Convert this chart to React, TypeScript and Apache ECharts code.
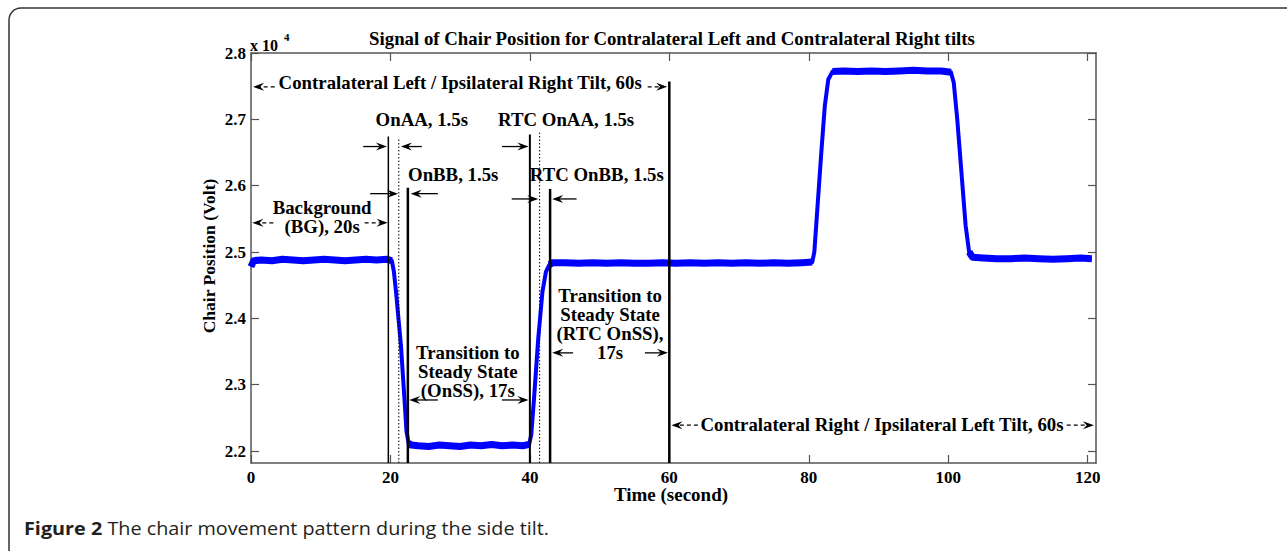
import React, { useEffect, useRef } from "react";
import * as echarts from "echarts";

// ---------- data ----------
const xTickValues = [0, 20, 40, 60, 80, 100, 120];
const yTickValues = [2.2, 2.3, 2.4, 2.5, 2.6, 2.7, 2.8];

const signalTime = [
  0, 0.4, 1.5, 3, 4.5, 6, 7.5, 9, 10.5, 12, 13.5, 15, 16.5, 18, 19.5, 20.2,
  20.5, 20.8, 21.5, 22.0, 22.3, 22.6, 23,
  24, 25.5, 27, 28.5, 30, 31.5, 33, 34.5, 36, 37.5, 39, 39.9,
  40.2, 40.6, 41.2, 41.8, 42.3, 42.8, 43.3,
  45, 47, 49, 51, 53, 55, 57, 59, 61, 63, 65, 67, 69, 71, 73, 75, 77, 79, 80.5,
  80.8, 81.2, 81.8, 82.3, 82.8, 83.4,
  85, 87, 89, 91, 93, 95, 97, 99, 100.4,
  100.8, 101.3, 101.9, 102.5, 103.0, 103.5,
  105, 107, 109, 111, 113, 115, 117, 119, 120.6,
];
const signalValue = [
  2.478, 2.487, 2.488, 2.487, 2.489, 2.488, 2.487, 2.488, 2.489, 2.488, 2.487, 2.488, 2.489, 2.488, 2.489, 2.487,
  2.47, 2.44, 2.36, 2.28, 2.23, 2.212, 2.209,
  2.208, 2.207, 2.209, 2.208, 2.207, 2.209, 2.208, 2.21, 2.208, 2.209, 2.208, 2.21,
  2.225, 2.28, 2.37, 2.44, 2.47, 2.481, 2.484,
  2.484, 2.483, 2.484, 2.483, 2.484, 2.483, 2.483, 2.484, 2.483, 2.484, 2.483, 2.484, 2.483, 2.484, 2.483, 2.484, 2.483, 2.484, 2.485,
  2.5, 2.56, 2.65, 2.72, 2.76, 2.772,
  2.773, 2.772, 2.773, 2.772, 2.773, 2.774, 2.773, 2.773, 2.771,
  2.755, 2.7, 2.62, 2.54, 2.5, 2.492,
  2.491, 2.49, 2.49, 2.491, 2.49, 2.489, 2.49, 2.491, 2.49,
];

// vertical event markers: time and top value
const markerTime = [19.7, 21.2, 22.5, 40.0, 41.4, 42.9, 60.0];
const markerTop = [2.674, 2.672, 2.597, 2.677, 2.68, 2.595, 2.757];

// annotation texts at data positions
const labelText = [
  "Contralateral Left / Ipsilateral Right Tilt, 60s",
  "OnAA, 1.5s",
  "OnBB, 1.5s",
  "RTC OnAA, 1.5s",
  "RTC OnBB, 1.5s",
  "Background\n(BG), 20s",
  "Transition to\nSteady State\n(OnSS), 17s",
  "Transition to\nSteady State\n(RTC OnSS),\n17s",
  "Contralateral Right / Ipsilateral Left Tilt, 60s",
];
const labelTime = [30.0, 24.5, 29.0, 45.2, 49.6, 10.2, 31.1, 51.5, 90.5];
const labelValue = [2.755, 2.699, 2.616, 2.699, 2.616, 2.552, 2.319, 2.39, 2.239];

// arrows: tail time, head time, value level
const arrowTail = [3.4, 56.9, 16.1, 24.5, 17.1, 26.8, 36.0, 37.4, 46.7, 3.2, 16.3, 26.8, 36.0, 46.2, 56.5, 64.1, 117.0];
const arrowHead = [0.3, 59.7, 19.5, 21.5, 21.1, 22.9, 39.8, 41.2, 43.2, 0.2, 19.6, 22.7, 39.8, 43.2, 59.8, 60.3, 120.9];
const arrowValue = [2.749, 2.749, 2.659, 2.659, 2.588, 2.588, 2.659, 2.58, 2.58, 2.544, 2.544, 2.277, 2.277, 2.348, 2.348, 2.239, 2.239];

// ---------- styles ----------
const SERIF = '"Liberation Serif", "Times New Roman", serif';
const SANS = '"Open Sans", "Noto Sans", sans-serif';
const AXIS_COLOR = "#555";
const Y_MIN = 2.182;
const Y_MAX = 2.8;
const X_MAX = 121.2;
const STRETCH = 1.045;
const FLAT_STEP = 0.01; // a point is on a plateau when its neighbours differ less than this
const markerDotted = [false, true, false, false, true, false, false];
const markerWidth = [1.5, 1, 2.5, 2, 1, 2.5, 2.5];
const arrowDashed = [true, true, false, false, false, false, false, false, false, true, true, false, false, false, false, true, true];

export default function App() {
  const ref = useRef<HTMLDivElement>(null);

  useEffect(() => {
    if (!ref.current) return;
    const chart = echarts.init(ref.current, null, { renderer: "svg" });

    const markerSeries = markerTime.map((t, i) => ({
      type: "line",
      data: [
        [t, Y_MIN],
        [t, markerTop[i]],
      ],
      showSymbol: false,
      silent: true,
      z: 3,
      lineStyle: {
        color: "#000",
        width: markerWidth[i],
        type: markerDotted[i] ? [1.5, 2] : "solid",
      },
    }));

    const signalData = signalTime.map((t, i) => [t, signalValue[i]]);
    // plateau points only (noise band is thicker there)
    const plateauData = signalTime.map((t, i) => {
      const prev = i > 0 ? Math.abs(signalValue[i] - signalValue[i - 1]) : 0;
      const next = i < signalValue.length - 1 ? Math.abs(signalValue[i + 1] - signalValue[i]) : 0;
      return prev < FLAT_STEP || next < FLAT_STEP ? [t, signalValue[i]] : [t, null];
    });

    const tickLabelStyle = {
      fontFamily: SERIF,
      fontWeight: "bold",
      fontSize: 17,
      color: "#000",
    };
    const tickStyle = { show: true, inside: true, length: 8, lineStyle: { color: AXIS_COLOR, width: 1.2 } };
    const lineStyle = { show: true, onZero: false, lineStyle: { color: AXIS_COLOR, width: 1.5 } };

    chart.setOption({
      animation: false,
      backgroundColor: "#fff",
      grid: { left: 251, top: 53, right: 191, bottom: 88, containLabel: false },
      xAxis: [
        {
          type: "value",
          min: 0,
          max: X_MAX,
          position: "bottom",
          axisLine: lineStyle,
          axisTick: { ...tickStyle, customValues: xTickValues },
          axisLabel: { show: true, customValues: xTickValues, margin: 6, ...tickLabelStyle },
          splitLine: { show: false },
        },
        {
          type: "value",
          min: 0,
          max: X_MAX,
          position: "top",
          axisLine: lineStyle,
          axisTick: { ...tickStyle, customValues: xTickValues },
          axisLabel: { show: false },
          splitLine: { show: false },
        },
      ],
      yAxis: [
        {
          type: "value",
          min: Y_MIN,
          max: Y_MAX,
          position: "left",
          axisLine: lineStyle,
          axisTick: { ...tickStyle, customValues: yTickValues },
          axisLabel: {
            show: true,
            customValues: yTickValues,
            margin: 5,
            formatter: (v: number) => v.toFixed(1),
            ...tickLabelStyle,
          },
          splitLine: { show: false },
        },
        {
          type: "value",
          min: Y_MIN,
          max: Y_MAX,
          position: "right",
          axisLine: lineStyle,
          axisTick: { ...tickStyle, customValues: yTickValues },
          axisLabel: { show: false },
          splitLine: { show: false },
        },
      ],
      series: [
        {
          name: "Chair position",
          type: "line",
          data: signalData,
          showSymbol: false,
          silent: true,
          z: 2,
          lineStyle: { color: "#0000ff", width: 4, join: "round" },
        },
        {
          name: "Chair position plateau",
          type: "line",
          data: plateauData,
          connectNulls: false,
          showSymbol: false,
          silent: true,
          z: 2,
          lineStyle: { color: "#0000ff", width: 7, join: "round", cap: "butt" },
        },
        ...markerSeries,
      ],
    });

    const px = (t: number, v: number) =>
      chart.convertToPixel({ xAxisIndex: 0, yAxisIndex: 0 }, [t, v]) as number[];

    const textFont = { fontFamily: SERIF, fontWeight: "bold", fontSize: 18, fill: "#000" };

    const graphics: any[] = [];

    // frame
    graphics.push({
      type: "rect",
      shape: { x: 9, y: 8, width: 1400, height: 700, r: 12 },
      style: { fill: "none", stroke: "#333", lineWidth: 1.5 },
      silent: true,
    });

    // title
    graphics.push({
      type: "text",
      x: 672,
      y: 39,
      scaleX: STRETCH,
      style: {
        text: "Signal of Chair Position for Contralateral Left and Contralateral Right tilts",
        align: "center",
        verticalAlign: "middle",
        ...textFont,
      },
    });

    // exponent
    graphics.push({
      type: "text",
      x: 250,
      y: 45,
      style: { text: "x 10", align: "left", verticalAlign: "middle", ...textFont, fontSize: 16 },
    });
    graphics.push({
      type: "text",
      x: 284,
      y: 37,
      style: { text: "4", align: "left", verticalAlign: "middle", ...textFont, fontSize: 11 },
    });

    // axis names
    graphics.push({
      type: "text",
      x: 210,
      y: 256,
      rotation: Math.PI / 2,
      scaleX: 1.03,
      style: { text: "Chair Position (Volt)", align: "center", verticalAlign: "middle", ...textFont, fontSize: 17 },
    });
    graphics.push({
      type: "text",
      x: 671,
      y: 495,
      scaleX: 1.055,
      style: { text: "Time (second)", align: "center", verticalAlign: "middle", ...textFont },
    });

    // annotation labels
    labelText.forEach((txt, i) => {
      const [x, y] = px(labelTime[i], labelValue[i]);
      graphics.push({
        type: "text",
        x,
        y,
        scaleX: STRETCH,
        style: { text: txt, align: "center", verticalAlign: "middle", lineHeight: 19, ...textFont },
      });
    });

    // arrows
    arrowTail.forEach((tt, i) => {
      const [x1, y] = px(tt, arrowValue[i]);
      const [x2] = px(arrowHead[i], arrowValue[i]);
      const dir = Math.sign(x2 - x1);
      const L = 11;
      const W = 4;
      graphics.push({
        type: "line",
        shape: { x1, y1: y, x2: x2 - dir * L * 0.6, y2: y },
        style: { stroke: "#000", lineWidth: 1.3, lineDash: arrowDashed[i] ? [4, 3] : null },
        silent: true,
      });
      graphics.push({
        type: "polygon",
        shape: {
          points: [
            [x2, y],
            [x2 - dir * L, y - W],
            [x2 - dir * L * 0.65, y],
            [x2 - dir * L, y + W],
          ],
        },
        style: { fill: "#000" },
        silent: true,
      });
    });

    // caption
    graphics.push({
      type: "text",
      x: 24,
      y: 528,
      scaleX: 1.1,
      style: {
        text: "{b|Figure 2} The chair movement pattern during the side tilt.",
        align: "left",
        verticalAlign: "middle",
        fontFamily: SANS,
        fontSize: 18,
        fill: "#231f20",
        rich: {
          b: { fontFamily: SANS, fontSize: 18, fontWeight: "bold", fill: "#231f20" },
        },
      },
    });

    chart.setOption({ graphic: graphics });

    return () => chart.dispose();
  }, []);

  return (
    <div
      ref={ref}
      style={{ position: "fixed", left: 0, top: 0, width: 1287, height: 551, background: "#fff" }}
    />
  );
}
